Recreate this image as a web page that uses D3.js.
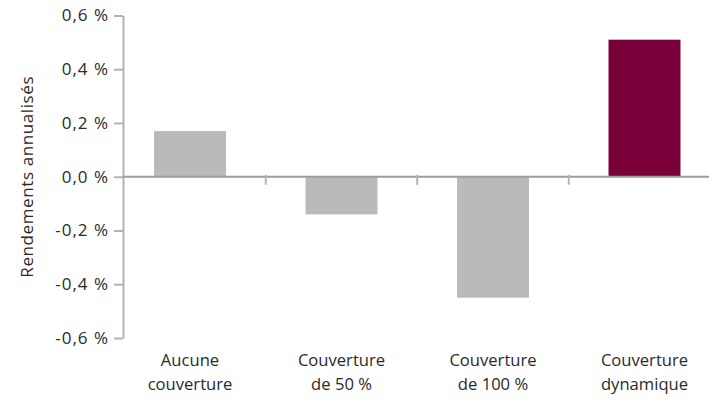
<!DOCTYPE html>
<html>
<head>
<meta charset="utf-8">
<script src="https://cdn.jsdelivr.net/npm/d3@7"></script>
<style>
  html, body { margin: 0; padding: 0; background: #fff; }
  svg text { font-family: "Open Sans", "Noto Sans", sans-serif; font-weight: 400; fill: #2a2a2a; }
</style>
</head>
<body>
<svg id="chart" width="715" height="402"></svg>
<script>
// Annualised returns by hedging strategy (in %)
const categories = [
  ["Aucune", "couverture"],
  ["Couverture", "de 50 %"],
  ["Couverture", "de 100 %"],
  ["Couverture", "dynamique"]
];
const returns = [0.17, -0.14, -0.45, 0.51];
const barColors = ["#b9bab9", "#b9bab9", "#b9bab9", "#7a003a"];
const yTicks = [0.6, 0.4, 0.2, 0.0, -0.2, -0.4, -0.6];
const yTitle = "Rendements annualisés";

const svg = d3.select("#chart");
const axisX = 123;

const y = d3.scaleLinear().domain([-0.6, 0.6]).range([338, 15.5]);
const x = d3.scaleBand()
  .domain(d3.range(categories.length))
  .range([114.25, 720.25])
  .paddingInner(0.525)
  .paddingOuter(0.2625);

const fmt = v => v.toFixed(1).replace(".", ",").replace(/^-0,0$/, "0,0") + " %";

// Bars
svg.append("g").selectAll("rect")
  .data(returns)
  .join("rect")
  .attr("x", (d, i) => x(i))
  .attr("width", x.bandwidth())
  .attr("y", d => y(Math.max(0, d)))
  .attr("height", d => Math.abs(y(d) - y(0)))
  .attr("fill", (d, i) => barColors[i]);

// Y axis
const yAxis = svg.append("g")
  .attr("transform", `translate(${axisX},0)`)
  .call(d3.axisLeft(y).tickValues(yTicks).tickFormat(fmt).tickSize(9).tickPadding(5).tickSizeOuter(0));
yAxis.select(".domain").attr("stroke", "#b3b3b3").attr("stroke-width", 2);
yAxis.selectAll(".tick line").attr("stroke", "#b3b3b3").attr("stroke-width", 2);
yAxis.selectAll(".tick text")
  .attr("font-size", 17)
  .attr("fill", "#2a2a2a")
  .style("letter-spacing", "1px")
  .style("font-family", '"Open Sans", "Noto Sans", sans-serif')
  .style("font-weight", 400);

// Zero baseline
svg.append("line")
  .attr("x1", axisX).attr("x2", 709)
  .attr("y1", y(0)).attr("y2", y(0))
  .attr("stroke", "#9d9d9d").attr("stroke-width", 2.2);

// Category separators on the baseline
const step = x.step();
svg.append("g").selectAll("line")
  .data(d3.range(1, categories.length))
  .join("line")
  .attr("x1", i => x(i) - step * x.paddingInner() / 2)
  .attr("x2", i => x(i) - step * x.paddingInner() / 2)
  .attr("y1", y(0) - 2)
  .attr("y2", y(0) + 8)
  .attr("stroke", "#b3b3b3").attr("stroke-width", 2);

// Category labels (two lines each)
const labels = svg.append("g").selectAll("text")
  .data(categories)
  .join("text")
  .attr("text-anchor", "middle")
  .attr("font-size", 16.6)
  .attr("transform", (d, i) => `translate(${x(i) + x.bandwidth() / 2},0)`);
labels.selectAll("tspan")
  .data(d => d)
  .join("tspan")
  .attr("x", 0)
  .attr("y", (d, j) => 366 + j * 23.5)
  .text(d => d);

// Y axis title
svg.append("text")
  .attr("transform", `translate(33,${y(0)}) rotate(-90)`)
  .attr("text-anchor", "middle")
  .attr("font-size", 17)
  .style("letter-spacing", "0.6px")
  .text(yTitle);
</script>
</body>
</html>
